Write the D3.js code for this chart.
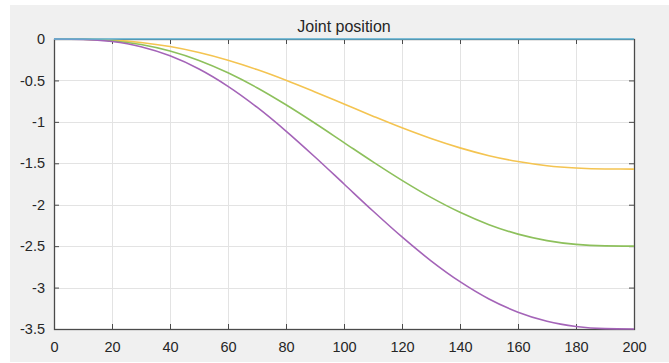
<!DOCTYPE html>
<html>
<head>
<meta charset="utf-8">
<script src="https://cdn.jsdelivr.net/npm/d3@7"></script>
<style>
  body { margin: 0; background: #fff; }
  text { font-family: "Liberation Sans", Arial, sans-serif; fill: #262626; }
</style>
</head>
<body>
<div id="chart"></div>
<script>
// sample positions (x axis)
var steps = [0, 10, 20, 30, 40, 50, 60, 70, 80, 90, 100, 110, 120, 130, 140, 150, 160, 170, 180, 190, 200];

// joint values
var joint1 = [0, 0, 0, 0, 0, 0, 0, 0, 0, 0, 0, 0, 0, 0, 0, 0, 0, 0, 0, 0, 0];
var joint2 = [0, -0.002, -0.013, -0.042, -0.091, -0.163, -0.256, -0.369, -0.498, -0.639, -0.785,
              -0.931, -1.072, -1.201, -1.314, -1.408, -1.479, -1.529, -1.557, -1.569, -1.57];
var joint3 = [0, -0.003, -0.021, -0.067, -0.145, -0.259, -0.408, -0.588, -0.794, -1.017, -1.25,
              -1.483, -1.706, -1.912, -2.092, -2.241, -2.355, -2.433, -2.479, -2.497, -2.5];
var joint4 = [0, -0.004, -0.03, -0.093, -0.203, -0.362, -0.571, -0.823, -1.111, -1.424, -1.75,
              -2.076, -2.389, -2.677, -2.929, -3.138, -3.297, -3.407, -3.47, -3.496, -3.5];

var xTicks = [0, 20, 40, 60, 80, 100, 120, 140, 160, 180, 200];
var yTicks = [0, -0.5, -1, -1.5, -2, -2.5, -3, -3.5];

var series = [
  { name: "joint1", values: joint1, color: "#5cb3d6" },
  { name: "joint2", values: joint2, color: "#f4c451" },
  { name: "joint3", values: joint3, color: "#8dc05c" },
  { name: "joint4", values: joint4, color: "#a464b8" }
];
// draw the blue line last so it sits on top of the box edge
var drawOrder = [series[1], series[2], series[3], series[0]];

var width = 669, height = 363;
var plot = { left: 54, right: 634, top: 39, bottom: 329 };

var svg = d3.select("#chart").append("svg")
  .attr("width", width)
  .attr("height", height);

// figure background
svg.append("rect")
  .attr("x", 10).attr("y", 5)
  .attr("width", width - 10).attr("height", height - 6)
  .attr("fill", "#f0f0f0");

var x = d3.scaleLinear().domain([0, 200]).range([plot.left, plot.right]);
var y = d3.scaleLinear().domain([-3.5, 0]).range([plot.bottom, plot.top]);

// axes area
svg.append("rect")
  .attr("x", plot.left).attr("y", plot.top)
  .attr("width", plot.right - plot.left).attr("height", plot.bottom - plot.top)
  .attr("fill", "#fff");

// grid
var grid = svg.append("g").attr("stroke", "#e3e3e3").attr("stroke-width", 1);
grid.selectAll("line.gx").data(xTicks).enter().append("line")
  .attr("x1", function (d) { return Math.round(x(d)) + 0.5; })
  .attr("x2", function (d) { return Math.round(x(d)) + 0.5; })
  .attr("y1", plot.top).attr("y2", plot.bottom);
grid.selectAll("line.gy").data(yTicks).enter().append("line")
  .attr("y1", function (d) { return Math.round(y(d)) + 0.5; })
  .attr("y2", function (d) { return Math.round(y(d)) + 0.5; })
  .attr("x1", plot.left).attr("x2", plot.right);

// axes with inward ticks
function styleAxis(g) {
  g.select(".domain").remove();
  g.selectAll(".tick line").attr("stroke", "#4a4a4a");
  g.selectAll(".tick text").attr("font-size", "14.5px").attr("fill", "#262626");
}

svg.append("g")
  .attr("transform", "translate(0," + plot.bottom + ")")
  .call(d3.axisBottom(x).tickValues(xTicks).tickSizeInner(-5).tickSizeOuter(0).tickPadding(13))
  .call(styleAxis);

svg.append("g")
  .attr("transform", "translate(0," + plot.top + ")")
  .call(d3.axisTop(x).tickValues(xTicks).tickSizeInner(-5).tickSizeOuter(0).tickFormat(""))
  .call(styleAxis);

svg.append("g")
  .attr("transform", "translate(" + plot.left + ",0)")
  .call(d3.axisLeft(y).tickValues(yTicks).tickSizeInner(-5).tickSizeOuter(0).tickPadding(9)
    .tickFormat(function (d) { return d === 0 ? "0" : String(d); }))
  .call(styleAxis);

svg.append("g")
  .attr("transform", "translate(" + plot.right + ",0)")
  .call(d3.axisRight(y).tickValues(yTicks).tickSizeInner(-5).tickSizeOuter(0).tickFormat(""))
  .call(styleAxis);

// box
svg.append("rect")
  .attr("x", plot.left + 0.5).attr("y", plot.top + 0.5)
  .attr("width", plot.right - plot.left).attr("height", plot.bottom - plot.top)
  .attr("fill", "none").attr("stroke", "#4a4a4a").attr("stroke-width", 1.3);

// lines
var line = d3.line()
  .x(function (d, i) { return x(steps[i]); })
  .y(function (d) { return y(d); })
  .curve(d3.curveMonotoneX);

svg.append("g").selectAll("path").data(drawOrder).enter().append("path")
  .attr("d", function (s) { return line(s.values); })
  .attr("fill", "none")
  .attr("stroke", function (s) { return s.color; })
  .attr("stroke-width", 1.6);

// title
svg.append("text")
  .attr("x", (plot.left + plot.right) / 2)
  .attr("y", 32)
  .attr("text-anchor", "middle")
  .attr("font-size", "16px")
  .text("Joint position");
</script>
</body>
</html>
